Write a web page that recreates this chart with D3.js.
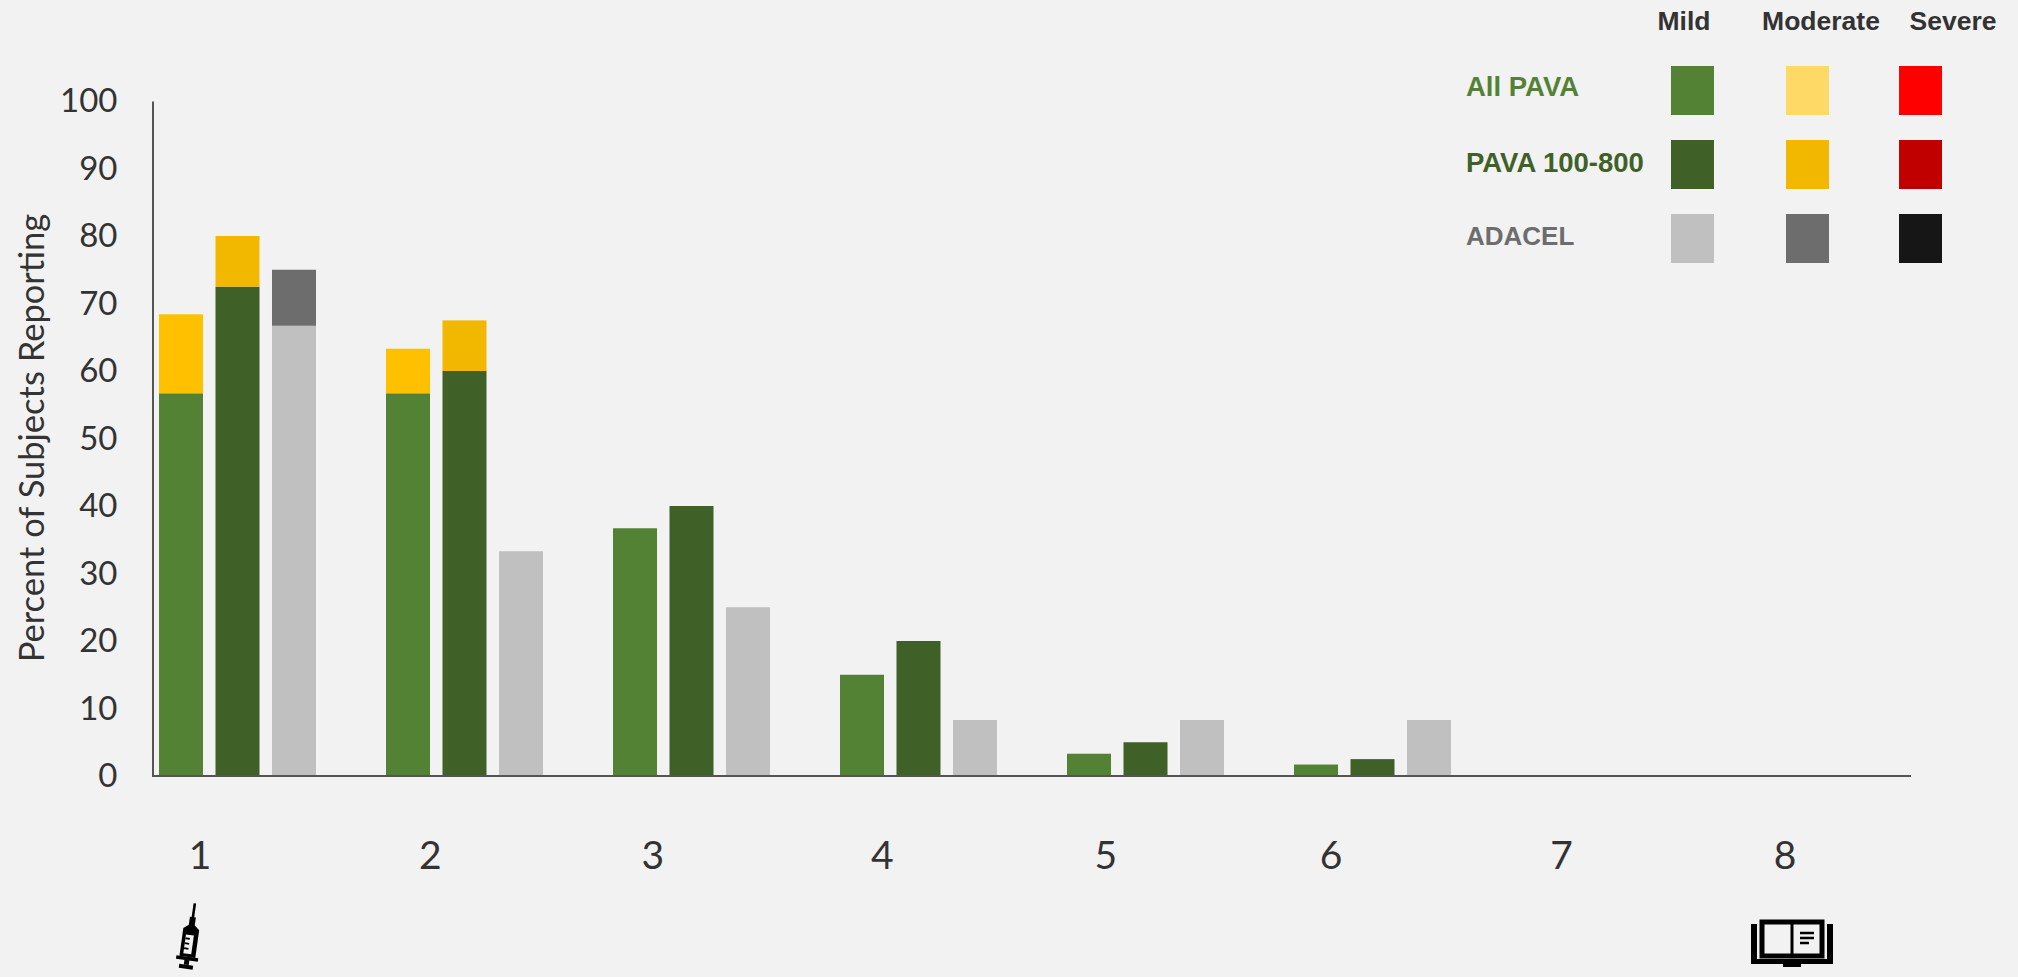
<!DOCTYPE html>
<html>
<head>
<meta charset="utf-8">
<script src="https://cdn.jsdelivr.net/npm/d3@7/dist/d3.min.js"></script>
<style>
  html, body { margin: 0; padding: 0; background: #f2f2f2; }
  svg { display: block; }
  text { fill: #333; }
</style>
</head>
<body>
<svg id="chart" width="2018" height="977"></svg>
<script>
// Days after vaccination and the study groups reported on each day
const days = ["1", "2", "3", "4", "5", "6", "7", "8"];
const groups = ["All PAVA", "PAVA 100-800", "ADACEL"];
const severities = ["Mild", "Moderate", "Severe"];
const yTicks = [0, 10, 20, 30, 40, 50, 60, 70, 80, 90, 100];

// Percent of subjects per day, one array per group and severity
const allPavaMild      = [56.7, 56.7, 36.7, 15, 3.3, 1.7, 0, 0];
const allPavaModerate  = [11.7, 6.6, 0, 0, 0, 0, 0, 0];
const allPavaSevere    = [0, 0, 0, 0, 0, 0, 0, 0];
const pava100Mild      = [72.5, 60, 40, 20, 5, 2.5, 0, 0];
const pava100Moderate  = [7.5, 7.5, 0, 0, 0, 0, 0, 0];
const pava100Severe    = [0, 0, 0, 0, 0, 0, 0, 0];
const adacelMild       = [66.7, 33.3, 25, 8.3, 8.3, 8.3, 0, 0];
const adacelModerate   = [8.3, 0, 0, 0, 0, 0, 0, 0];
const adacelSevere     = [0, 0, 0, 0, 0, 0, 0, 0];

const barColors = [
  ["#548235", "#ffc000", "#ff0000"],
  ["#3f6128", "#f2b800", "#c00000"],
  ["#c0c0c0", "#6d6d6d", "#161616"]
];
const keyColors = [
  ["#548235", "#ffd966", "#ff0000"],
  ["#3f6128", "#f2b800", "#c00000"],
  ["#c0c0c0", "#6d6d6d", "#161616"]
];
const groupTextColors = ["#548235", "#3f6128", "#6d6d6d"];
const groupTextSizes = [27.5, 27.5, 26];
const groupTextDrop = [30, 32, 31];
const keyColumnNudge = [0, 1, 0];
const dayLabelNudge = [0, 4, 0, 3, 0, -1, 3, 0];

const seriesTable = [
  [allPavaMild, allPavaModerate, allPavaSevere],
  [pava100Mild, pava100Moderate, pava100Severe],
  [adacelMild, adacelModerate, adacelSevere]
];

const svg = d3.select("#chart");
const bodyFont = "Lato, 'Open Sans', sans-serif";
const keyFont = "'Liberation Sans', Arial, sans-serif";

const y = d3.scaleLinear().domain([0, 100]).range([776, 101]);
const x = d3.scaleBand().domain(days).range([124.5, 1940.5]);
const xInner = d3.scaleBand().domain(groups).range([34.5, 191.5]).paddingInner(0.221);
const xLabel = d3.scalePoint().domain(days).range([200, 1785]);

// Stacked bars, one stack per group within each day
const stack = d3.stack().keys(d3.range(severities.length));
groups.forEach((group, g) => {
  const rows = days.map((d, i) => seriesTable[g].map(s => s[i]));
  const layers = stack(rows);
  const gEl = svg.append("g").attr("class", "group");
  layers.forEach((layer, s) => {
    gEl.selectAll(null)
      .data(layer.map((v, i) => ({ day: days[i], y0: v[0], y1: v[1] })).filter(d => d.y1 > d.y0))
      .join("rect")
      .attr("x", d => x(d.day) + xInner(group))
      .attr("width", xInner.bandwidth())
      .attr("y", d => y(d.y1))
      .attr("height", d => y(d.y0) - y(d.y1))
      .attr("fill", barColors[g][s]);
  });
});

// Vertical axis
const yAxis = d3.axisLeft(y).tickValues(yTicks).tickSize(0).tickPadding(35);
const yG = svg.append("g").attr("transform", "translate(152.5,0)").call(yAxis);
yG.select(".domain").attr("stroke", "#555").attr("stroke-width", 2);
yG.selectAll("text")
  .style("font-family", bodyFont).style("font-size", "33px").attr("fill", "#333");

// Baseline
svg.append("line")
  .attr("x1", 152).attr("x2", 1911)
  .attr("y1", y(0)).attr("y2", y(0))
  .attr("stroke", "#555").attr("stroke-width", 2);

// Day labels
svg.selectAll(".day")
  .data(days)
  .join("text")
  .attr("class", "day")
  .attr("x", (d, i) => xLabel(d) + dayLabelNudge[i])
  .attr("y", 869)
  .attr("text-anchor", "middle")
  .style("font-family", bodyFont).style("font-size", "39px")
  .text(d => d);

// Axis title
svg.append("text")
  .attr("transform", "translate(44,438) rotate(-90)")
  .attr("text-anchor", "middle")
  .style("font-family", bodyFont).style("font-size", "34.5px")
  .text("Percent of Subjects Reporting");

// Key: severity headings, group names and swatches
const keyColumns = d3.scaleBand().domain(severities).range([1671, 1942]).paddingInner(0.623);
const keyRows = d3.scaleBand().domain(groups).range([66, 263]).paddingInner(0.338);
const headingCentres = { Mild: 1684, Moderate: 1821, Severe: 1953 };

svg.selectAll(".heading")
  .data(severities)
  .join("text")
  .attr("class", "heading")
  .attr("x", d => headingCentres[d])
  .attr("y", 30)
  .attr("text-anchor", "middle")
  .style("font-family", keyFont).style("font-size", "26.5px").style("font-weight", 700)
  .style("fill", "#333")
  .text(d => d);

groups.forEach((group, g) => {
  svg.append("text")
    .attr("x", 1466)
    .attr("y", keyRows(group) + groupTextDrop[g])
    .style("font-family", keyFont).style("font-size", groupTextSizes[g] + "px").style("font-weight", 700)
    .style("fill", groupTextColors[g])
    .text(group);
  severities.forEach((sev, s) => {
    svg.append("rect")
      .attr("x", keyColumns(sev) + keyColumnNudge[s])
      .attr("y", keyRows(group))
      .attr("width", keyColumns.bandwidth())
      .attr("height", keyRows.bandwidth())
      .attr("fill", keyColors[g][s]);
  });
});

// Syringe icon under day 1
const syringe = svg.append("g").attr("transform", "translate(190,938) rotate(8)").attr("fill", "#000");
syringe.append("rect").attr("x", -1.3).attr("y", -35).attr("width", 2.6).attr("height", 18);
syringe.append("path").attr("d", "M-3,-21 L3,-21 L3,-13 L8,-9 L8,19 L-8,19 L-8,-9 L-3,-13 Z");
syringe.append("rect").attr("x", -4.5).attr("y", -3).attr("width", 8).attr("height", 19).attr("fill", "#f2f2f2");
syringe.append("path").attr("d", "M-4.5,0 H0 V1.8 H-4.5 Z M-4.5,5 H0 V6.8 H-4.5 Z M-4.5,10 H0 V11.8 H-4.5 Z");
syringe.append("rect").attr("x", -11).attr("y", 19).attr("width", 22).attr("height", 3.5);
syringe.append("rect").attr("x", -2.5).attr("y", 22).attr("width", 5).attr("height", 5);
syringe.append("rect").attr("x", -7).attr("y", 27).attr("width", 14).attr("height", 4);

// Open book icon under day 8
const book = svg.append("g").attr("transform", "translate(1751,920)");
book.append("path").attr("fill", "#000")
  .attr("d", "M0,4 H6 V39 H76 V4 H82 V44 H50 V47 H32 V44 H0 Z");
book.append("rect").attr("x", 11).attr("y", 2).attr("width", 60).attr("height", 34)
  .attr("fill", "#f2f2f2").attr("stroke", "#000").attr("stroke-width", 5);
book.append("line").attr("x1", 41).attr("x2", 41).attr("y1", 2).attr("y2", 36)
  .attr("stroke", "#000").attr("stroke-width", 3);
book.append("path").attr("stroke", "#000").attr("stroke-width", 2.5).attr("fill", "none")
  .attr("d", "M49,13 H63 M49,18 H63 M49,23 H58");
</script>
</body>
</html>
